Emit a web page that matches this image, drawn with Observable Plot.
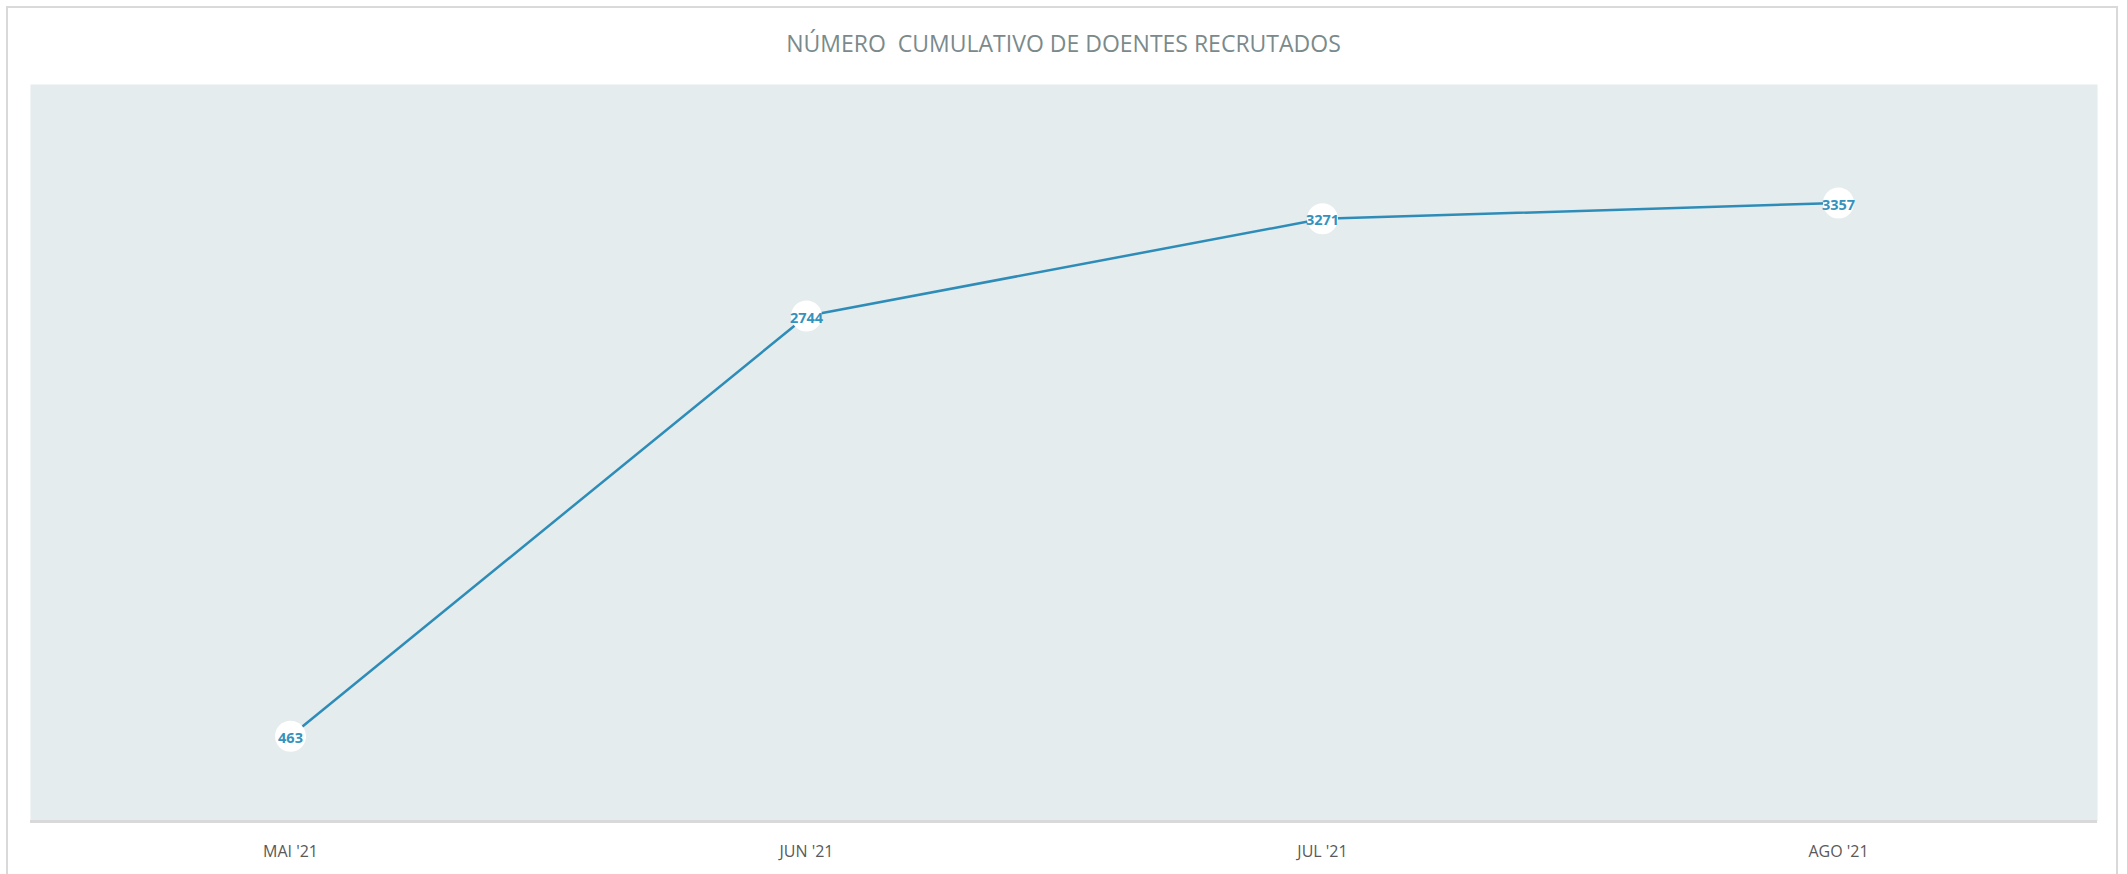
<!DOCTYPE html>
<html>
<head>
<meta charset="utf-8">
<script src="https://cdn.jsdelivr.net/npm/d3@7"></script>
<script src="https://cdn.jsdelivr.net/npm/@observablehq/plot@0.6"></script>
<style>
  html, body { margin: 0; padding: 0; background: #ffffff; width: 2127px; height: 874px; overflow: hidden; }
  #page { position: relative; width: 2127px; height: 874px; }
  #border { position: absolute; left: 6px; top: 6px; width: 2112px; height: 900px; border: 2px solid #d9d9d9; box-sizing: border-box; pointer-events: none; }
  #title { height: 84px; width: 2127px; text-align: center; font-family: "Open Sans", sans-serif; font-size: 23px; color: #7a8a8c; line-height: 86px; white-space: pre; }
  #chart svg { display: block; }
</style>
</head>
<body>
<div id="page">
  <div id="title">NÚMERO  CUMULATIVO DE DOENTES RECRUTADOS</div>
  <div id="chart"></div>
  <div id="border"></div>
</div>
<script>
const months = ["MAI '21", "JUN '21", "JUL '21", "AGO '21"];
const patients = [463, 2744, 3271, 3357];

const data = months.map((m, i) => ({month: m, value: patients[i]}));

const chart = Plot.plot({
  width: 2127,
  height: 790,
  marginTop: 0,
  marginBottom: 53,
  marginLeft: 30,
  marginRight: 30,
  style: {fontFamily: "Open Sans, sans-serif", background: "transparent"},
  x: {type: "point", domain: months, padding: 0.5},
  y: {domain: [0, 4000], axis: null},
  marks: [
    Plot.frame({fill: "#e5eced", stroke: null}),
    Plot.ruleY([0], {stroke: "#d9d9d9", strokeWidth: 3}),
    Plot.axisX({tickSize: 0, tickPadding: 24, fontSize: 16, color: "#595959", label: null}),
    Plot.line(data, {x: "month", y: "value", stroke: "#2e8cb8", strokeWidth: 2.5}),
    Plot.dot(data, {x: "month", y: "value", r: 15.5, fill: "#ffffff", stroke: null}),
    Plot.text(data, {x: "month", y: "value", text: d => String(d.value), fill: "#3592bd", fontSize: 14.5, fontWeight: "bold", dy: 2})
  ]
});
document.getElementById("chart").appendChild(chart);
</script>
</body>
</html>
